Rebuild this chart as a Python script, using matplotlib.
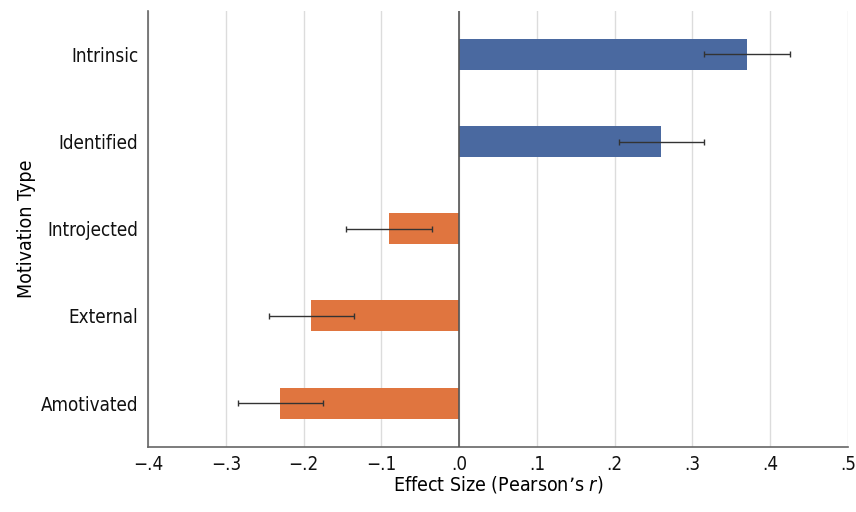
import matplotlib
matplotlib.use('Agg')
import matplotlib.pyplot as plt
from matplotlib.ticker import FixedLocator

plt.rcParams['font.family'] = ['DejaVu Sans']
plt.rcParams['font.stretch'] = 'condensed'

categories = ['Amotivated', 'External', 'Introjected', 'Identified', 'Intrinsic']
effect = [-0.23, -0.19, -0.09, 0.26, 0.37]
ci_half = [0.055, 0.055, 0.055, 0.055, 0.055]
x_ticks = [-0.4, -0.3, -0.2, -0.1, 0.0, 0.1, 0.2, 0.3, 0.4, 0.5]

BLUE = '#4a69a0'
ORANGE = '#e0753f'


def fmt(v):
    s = '%.1f' % abs(v)
    s = s.lstrip('0')
    return ('\u2212' + s) if v < -1e-9 else s


fig = plt.figure(figsize=(8.56, 5.12), dpi=100)
ax = fig.add_axes([0.173, 0.1275, 0.8177, 0.8515])

colors = [BLUE if v > 0 else ORANGE for v in effect]
ypos = list(range(len(categories)))
ax.barh(ypos, effect, height=0.355, color=colors, zorder=2)
ax.errorbar(effect, ypos, xerr=ci_half, fmt='none', ecolor='#333333',
            elinewidth=1.0, capsize=2.5, capthick=1.0, zorder=3)

ax.set_xlim(-0.4, 0.5)
ax.set_ylim(-0.5, 4.5)
ax.xaxis.set_major_locator(FixedLocator(x_ticks))
ax.set_xticklabels([fmt(v) for v in x_ticks])
ax.set_yticks(ypos)
ax.set_yticklabels(categories)
ax.tick_params(axis='both', length=0, labelsize=13.5, colors='#111111')
ax.tick_params(axis='y', pad=7)
ax.tick_params(axis='x', pad=6)

ax.grid(axis='x', color='#dcdcdc', linewidth=1.0, zorder=0)
ax.axvline(0, color='#555555', linewidth=1.2, zorder=4)

for side in ['top', 'right']:
    ax.spines[side].set_visible(False)
for side in ['left', 'bottom']:
    ax.spines[side].set_color('#666666')
    ax.spines[side].set_linewidth(1.2)

ax.set_xlabel('Effect Size (Pearson\u2019s $\\it{r}$)', fontsize=14, va='center')
ax.xaxis.set_label_coords(0.5, -0.087)
ax.set_ylabel('Motivation Type', fontsize=14, va='center')
ax.yaxis.set_label_coords(-0.173, 0.5)

fig.savefig('out.png', dpi=100)
